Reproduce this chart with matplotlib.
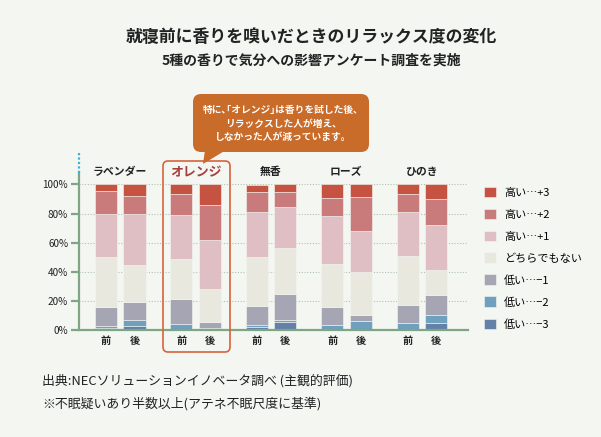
import matplotlib
matplotlib.use("Agg")
import matplotlib.pyplot as plt
import numpy as np
from matplotlib.patches import FancyBboxPatch, Polygon

plt.rcParams['font.family'] = ['Noto Sans CJK JP', 'DejaVu Sans']

# ---------------- data ----------------
groups = ["ラベンダー", "オレンジ", "無香", "ローズ", "ひのき"]
timing = ["前", "後"]
series_labels = ["高い…+3", "高い…+2", "高い…+1", "どちらでもない", "低い…−1", "低い…−2", "低い…−3"]
# order of bars: group0 前, group0 後, group1 前, ...
low3 = [1.5, 3.0, 1.0, 0.5, 2.0, 5.5, 0.5, 0.5, 0.3, 4.6]
low2 = [1.5, 4.0, 3.0, 0.6, 1.7, 1.4, 2.7, 5.5, 4.3, 5.5]
low1 = [13.0, 12.0, 17.0, 4.6, 13.0, 17.9, 12.9, 4.6, 12.6, 13.8]
neutral = [34.0, 26.0, 28.0, 22.6, 33.3, 31.8, 29.4, 29.4, 33.4, 17.0]
high1 = [30.0, 35.0, 30.0, 33.8, 30.8, 28.2, 32.7, 28.3, 30.8, 31.3]
high2 = [15.5, 12.0, 14.5, 23.6, 13.8, 9.7, 12.6, 23.4, 12.4, 17.5]
high3 = [4.5, 8.0, 6.5, 14.3, 5.3, 5.5, 9.2, 8.3, 6.2, 10.3]
yticks = [0, 20, 40, 60, 80, 100]

# bottom to top stacking order
stack = [low3, low2, low1, neutral, high1, high2, high3]
stack_labels = series_labels[::-1]
colors_bottom_up = ["#6480A8", "#6FA0BE", "#A5A5B3", "#E8E8DE", "#DFBFC3", "#C97B7C", "#C65342"]

BG = "#F4F6F2"
GREEN = "#7FA684"

fig = plt.figure(figsize=(6.01, 4.37), dpi=100, facecolor=BG)
ax = fig.add_axes([79/601, 107/437, (468-79)/601, (330-173)/437])
ax.set_facecolor(BG)

ng = len(groups)
offset = 0.189
width = 0.292
xpos = []
for g in range(ng):
    xpos += [g - offset, g + offset]
xpos = np.array(xpos)

bottom = np.zeros(len(xpos))
for vals, col, lab in zip(stack, colors_bottom_up, stack_labels):
    ax.bar(xpos, vals, width=width, bottom=bottom, color=col, edgecolor=BG,
           linewidth=0.4, label=lab, zorder=3)
    bottom += np.array(vals)

ax.set_xlim(-0.547, 4.612)
ax.set_ylim(0, 107.9)

for s in ["top", "right"]:
    ax.spines[s].set_visible(False)
ax.spines["left"].set_color(GREEN)
ax.spines["left"].set_linewidth(1.6)
ax.spines["bottom"].set_color(GREEN)
ax.spines["bottom"].set_linewidth(1.6)
ax.spines["bottom"].set_zorder(4)

ax.set_yticks(yticks)
ax.set_yticklabels([f"{v}%" for v in yticks], fontsize=7.2, color="#222222")
ax.tick_params(axis="y", length=5.8, width=1.6, color=GREEN, pad=2)
for v in yticks[1:]:
    ax.axhline(v, color="#AFC2AF", linestyle=(0, (1, 1.5)), linewidth=0.8, zorder=1)

ax.set_xticks(xpos)
ax.set_xticklabels(timing * ng, fontsize=7.3, color="#222222", fontweight="bold")
ax.tick_params(axis="x", length=0, pad=4.5)

# dotted cyan extension of y axis
ax.plot([-0.547, -0.547], [107.9, 121.6], color="#3DB0D8", linestyle=(0, (1, 1)),
        linewidth=1.6, clip_on=False, zorder=5)

# group labels
for g, name in enumerate(groups):
    if g == 1:
        ax.text(g, 108.6, name, ha="center", va="center", fontsize=9.3,
                fontweight="bold", color="#A43F3C")
    else:
        ax.text(g, 108.6, name, ha="center", va="center", fontsize=7.8,
                fontweight="bold", color="#222222")

# highlight box around orange group
hl = FancyBboxPatch((163/100, (437-352)/100), (230-163)/100, (352-161)/100,
                    boxstyle="round,pad=0,rounding_size=0.05",
                    transform=fig.dpi_scale_trans, facecolor="none",
                    edgecolor="#D8633C", linewidth=1.2, zorder=6)
fig.add_artist(hl)

# callout
CALL = "#C96B29"
cb = FancyBboxPatch((193/100, (437-152)/100), (369-193)/100, (152-94)/100,
                    boxstyle="round,pad=0,rounding_size=0.08",
                    transform=fig.dpi_scale_trans, facecolor=CALL,
                    edgecolor="none", zorder=6)
fig.add_artist(cb)
tail = Polygon([(205/100, (437-150)/100), (226/100, (437-150)/100), (203/100, (437-164)/100)],
               closed=True, transform=fig.dpi_scale_trans, facecolor=CALL,
               edgecolor="none", zorder=6)
fig.add_artist(tail)
fig.text(281/601, 1-123.5/437, "特に､｢オレンジ｣は香りを試した後､\nリラックスした人が増え､\nしなかった人が減っています｡",
         ha="center", va="center", fontsize=7.0, color="white", linespacing=1.42,
         fontweight="bold", zorder=7)

# titles
fig.text(311/601, 1-37/437, "就寝前に香りを嗅いだときのリラックス度の変化",
         ha="center", va="center", fontsize=12.2, fontweight="bold", color="#222222")
fig.text(311/601, 1-61/437, "5種の香りで気分への影響アンケート調査を実施",
         ha="center", va="center", fontsize=10, fontweight="bold", color="#222222")

# legend
handles, labels = ax.get_legend_handles_labels()
leg = fig.legend(handles[::-1], labels[::-1], loc="upper left",
                 bbox_to_anchor=(484/601, 1-186.5/437), frameon=False,
                 fontsize=8.0, handlelength=1.1, handleheight=1.1,
                 handletextpad=0.7, labelspacing=0.98, borderaxespad=0,
                 borderpad=0)

# footer
fig.text(42/601, 1-381/437, "出典:NECソリューションイノベータ調べ (主観的評価)",
         ha="left", va="center", fontsize=9.3, color="#222222")
fig.text(42/601, 1-404/437, "※不眠疑いあり半数以上(アテネ不眠尺度に基準)",
         ha="left", va="center", fontsize=9.3, color="#222222")

fig.savefig("out.png", dpi=100, facecolor=BG)
